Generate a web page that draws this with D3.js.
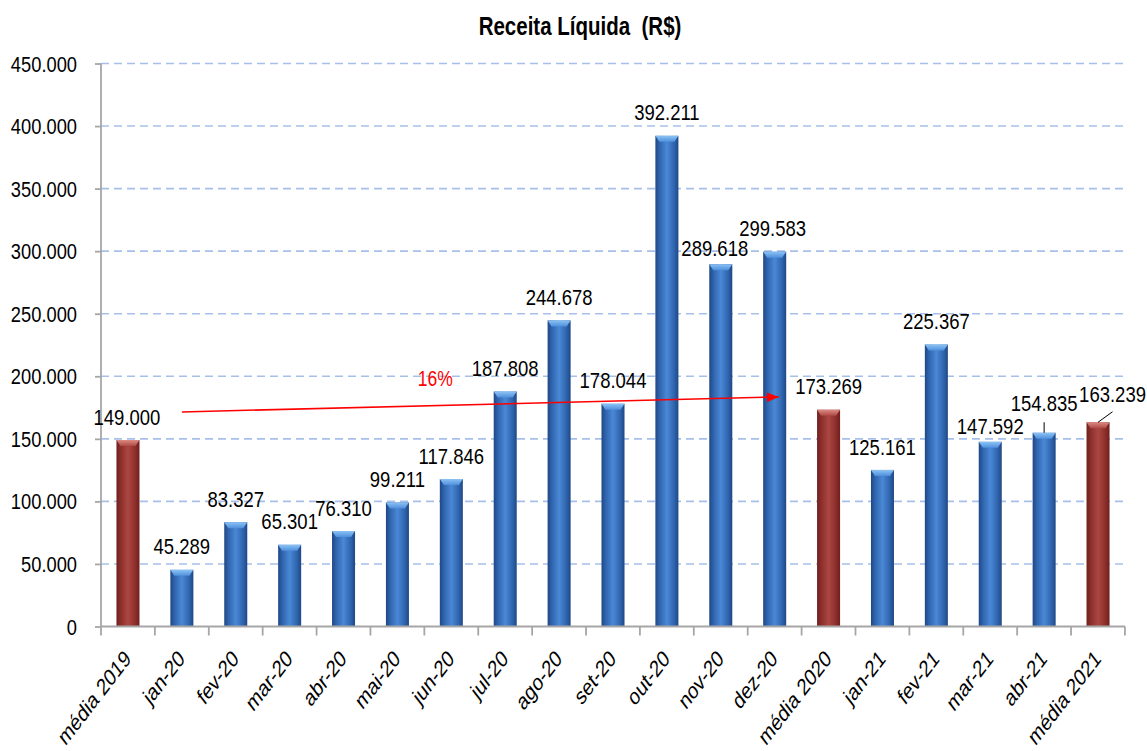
<!DOCTYPE html>
<html>
<head>
<meta charset="utf-8">
<script src="https://cdn.jsdelivr.net/npm/d3@7"></script>
<style>
  html, body { margin: 0; padding: 0; background: #fff; }
  text { font-family: "Liberation Sans", Arial, sans-serif; }
</style>
</head>
<body>
<div id="chart"></div>
<script>
// Receita Líquida (R$) - monthly values and yearly averages
var categories = ["média 2019", "jan-20", "fev-20", "mar-20", "abr-20", "mai-20", "jun-20",
  "jul-20", "ago-20", "set-20", "out-20", "nov-20", "dez-20", "média 2020",
  "jan-21", "fev-21", "mar-21", "abr-21", "média 2021"];
var values = [149000, 45289, 83327, 65301, 76310, 99211, 117846, 187808, 244678, 178044,
  392211, 289618, 299583, 173269, 125161, 225367, 147592, 154835, 163239];
var averageCats = ["média 2019", "média 2020", "média 2021"];
var yTicks = [0, 50000, 100000, 150000, 200000, 250000, 300000, 350000, 400000, 450000];
var title = "Receita Líquida\u00a0 (R$)";

// red growth arrow (média 2019 -> média 2020), drawn across the months
var arrowFrom = {cat: "jan-20", value: 171500};
var arrowTo = {cat: "dez-20", value: 183500};
var pctAt = {cat: "jun-20", value: 198000};

// manual label nudges (px) as in the original sheet, and which ones get a leader line
var labelNudge = {
  "média 2019": [-1, 0],
  "nov-20": [-6, 7.5],
  "dez-20": [-2, 0],
  "mar-21": [0, 7.5],
  "abr-21": [0, -6.5],
  "média 2021": [14.5, -4.5]
};
var leaderCats = ["abr-21", "média 2021"];

var width = 1147, height = 751;
var SY = 1.22; // the source picture is stretched vertically

var ptBR = d3.formatLocale({decimal: ",", thousands: ".", grouping: [3], currency: ["R$", ""]});
var fmt = ptBR.format(",d");

var data = categories.map(function(c, i) {
  return {cat: c, value: values[i], avg: averageCats.indexOf(c) >= 0};
});

var svg = d3.select("#chart").append("svg")
    .attr("width", width)
    .attr("height", height);

var defs = svg.append("defs");

function barGradient(id, stops) {
  var g = defs.append("linearGradient").attr("id", id)
      .attr("x1", "0%").attr("x2", "100%").attr("y1", "0%").attr("y2", "0%");
  stops.forEach(function(s) {
    g.append("stop").attr("offset", s[0]).attr("stop-color", s[1]);
  });
}
barGradient("blueBar", [["0%", "#1f4784"], ["18%", "#2f64ad"], ["50%", "#4a88d6"], ["82%", "#2f64ad"], ["100%", "#1f4784"]]);
barGradient("redBar", [["0%", "#6e1f1d"], ["18%", "#8c2e2b"], ["50%", "#ab4742"], ["82%", "#8c2e2b"], ["100%", "#6e1f1d"]]);

function capGradient(id, top, bottom) {
  var g = defs.append("linearGradient").attr("id", id)
      .attr("x1", "0%").attr("x2", "0%").attr("y1", "0%").attr("y2", "100%");
  g.append("stop").attr("offset", "0%").attr("stop-color", top);
  g.append("stop").attr("offset", "100%").attr("stop-color", bottom);
}
capGradient("blueCap", "#8cc3f5", "#4f8fdc");
capGradient("redCap", "#dd8a84", "#ad4944");

defs.append("marker")
    .attr("id", "arrowHead")
    .attr("viewBox", "0 0 12 10")
    .attr("refX", 12).attr("refY", 5)
    .attr("markerWidth", 12).attr("markerHeight", 10)
    .attr("markerUnits", "userSpaceOnUse")
    .attr("orient", "auto")
  .append("path")
    .attr("d", "M0,0 L12,5 L0,10 Z")
    .attr("fill", "#ff0000");

var x = d3.scaleBand()
    .domain(categories)
    .range([101, 1125])
    .paddingInner(0.573)
    .paddingOuter(0.287);

var y = d3.scaleLinear()
    .domain([0, 450000])
    .range([626.5, 63.5]);

function cx(c) { return x(c) + x.bandwidth() / 2; }

// title
svg.append("text")
    .attr("transform", "translate(580,26) scale(1," + SY + ")")
    .attr("dy", "0.36em")
    .attr("text-anchor", "middle")
    .style("font-size", "20.5px")
    .style("font-weight", "bold")
    .style("white-space", "pre")
    .attr("fill", "#000")
    .text(title);

// grid
svg.append("g")
    .attr("class", "grid")
  .selectAll("line")
  .data(yTicks.filter(function(d) { return d > 0; }))
  .enter().append("line")
    .attr("x1", 101).attr("x2", 1125)
    .attr("y1", function(d) { return y(d); })
    .attr("y2", function(d) { return y(d); })
    .attr("stroke", "#a6c0ea")
    .attr("stroke-width", 1.6)
    .attr("stroke-dasharray", "8,5");

// y axis
var yAxis = svg.append("g")
    .attr("class", "axis y")
    .attr("transform", "translate(101,0)")
    .call(d3.axisLeft(y).tickValues(yTicks).tickSize(6).tickFormat(""));
yAxis.selectAll("path, line").attr("stroke", "#a6a6a6").attr("stroke-width", 1.8);
yAxis.select(".domain").attr("d", "M0," + y(450000) + "V" + y(0));

svg.append("g")
    .attr("class", "ylabels")
  .selectAll("text")
  .data(yTicks)
  .enter().append("text")
    .attr("transform", function(d) { return "translate(77," + y(d) + ") scale(1," + SY + ")"; })
    .attr("dy", "0.36em")
    .attr("text-anchor", "end")
    .style("font-size", "18.3px")
    .attr("fill", "#000")
    .text(function(d) { return fmt(d); });

// bars
var bars = svg.append("g").attr("class", "bars")
  .selectAll("g")
  .data(data)
  .enter().append("g");

bars.append("rect")
    .attr("x", function(d) { return x(d.cat); })
    .attr("y", function(d) { return y(d.value); })
    .attr("width", x.bandwidth())
    .attr("height", function(d) { return y(0) - y(d.value); })
    .attr("fill", function(d) { return d.avg ? "url(#redBar)" : "url(#blueBar)"; });

bars.append("path")
    .attr("d", function(d) {
      var x0 = x(d.cat), x1 = x0 + x.bandwidth(), t = y(d.value);
      return "M" + x0 + "," + t + "L" + x1 + "," + t + "L" + (x1 - 4) + "," + (t + 6) +
             "L" + (x0 + 4) + "," + (t + 6) + "Z";
    })
    .attr("fill", function(d) { return d.avg ? "url(#redCap)" : "url(#blueCap)"; });

// x axis
var xAxis = svg.append("g")
    .attr("class", "axis x")
    .attr("transform", "translate(0," + y(0) + ")");
xAxis.append("line")
    .attr("x1", 101).attr("x2", 1125)
    .attr("stroke", "#a6a6a6").attr("stroke-width", 1.8);
xAxis.selectAll(".tick")
  .data(categories.concat(["end"]))
  .enter().append("line")
    .attr("x1", function(d, i) { return 101 + i * x.step(); })
    .attr("x2", function(d, i) { return 101 + i * x.step(); })
    .attr("y1", 0).attr("y2", 9)
    .attr("stroke", "#a6a6a6").attr("stroke-width", 1.8);

svg.append("g")
    .attr("class", "xlabels")
  .selectAll("text")
  .data(categories)
  .enter().append("text")
    .attr("transform", function(d) {
      return "translate(" + (cx(d) + 4) + ",660) scale(1,1.3) rotate(-45)";
    })
    .attr("text-anchor", "end")
    .style("font-size", "18px")
    .attr("fill", "#000")
    .text(function(d) { return d; });

// value labels
function nudge(c) { return labelNudge[c] || [0, 0]; }

svg.append("g").attr("class", "leaders")
  .selectAll("line")
  .data(data.filter(function(d) { return leaderCats.indexOf(d.cat) >= 0; }))
  .enter().append("line")
    .attr("x1", function(d) { return cx(d.cat); })
    .attr("y1", function(d) { return y(d.value); })
    .attr("x2", function(d) { return cx(d.cat) + nudge(d.cat)[0]; })
    .attr("y2", function(d) { return y(d.value) - 10.5; })
    .attr("stroke", "#000")
    .attr("stroke-width", 1);

svg.append("g").attr("class", "labels")
  .selectAll("text")
  .data(data)
  .enter().append("text")
    .attr("transform", function(d) {
      var n = nudge(d.cat);
      return "translate(" + (cx(d.cat) + n[0]) + "," + (y(d.value) - 23.5 + n[1]) + ") scale(1," + SY + ")";
    })
    .attr("dy", "0.36em")
    .attr("text-anchor", "middle")
    .style("font-size", "18.5px")
    .attr("fill", "#000")
    .text(function(d) { return fmt(d.value); });

// growth arrow
svg.append("line")
    .attr("x1", cx(arrowFrom.cat))
    .attr("y1", y(arrowFrom.value))
    .attr("x2", cx(arrowTo.cat) + 4)
    .attr("y2", y(arrowTo.value))
    .attr("stroke", "#ff0000")
    .attr("stroke-width", 1.6)
    .attr("marker-end", "url(#arrowHead)");

var growth = values[categories.indexOf("média 2020")] / values[categories.indexOf("média 2019")] - 1;
svg.append("text")
    .attr("transform", "translate(" + (cx(pctAt.cat) - 16) + "," + y(pctAt.value) + ") scale(1," + SY + ")")
    .attr("dy", "0.36em")
    .attr("text-anchor", "middle")
    .style("font-size", "17.5px")
    .attr("fill", "#ff0000")
    .text(Math.round(growth * 100) + "%");
</script>
</body>
</html>
